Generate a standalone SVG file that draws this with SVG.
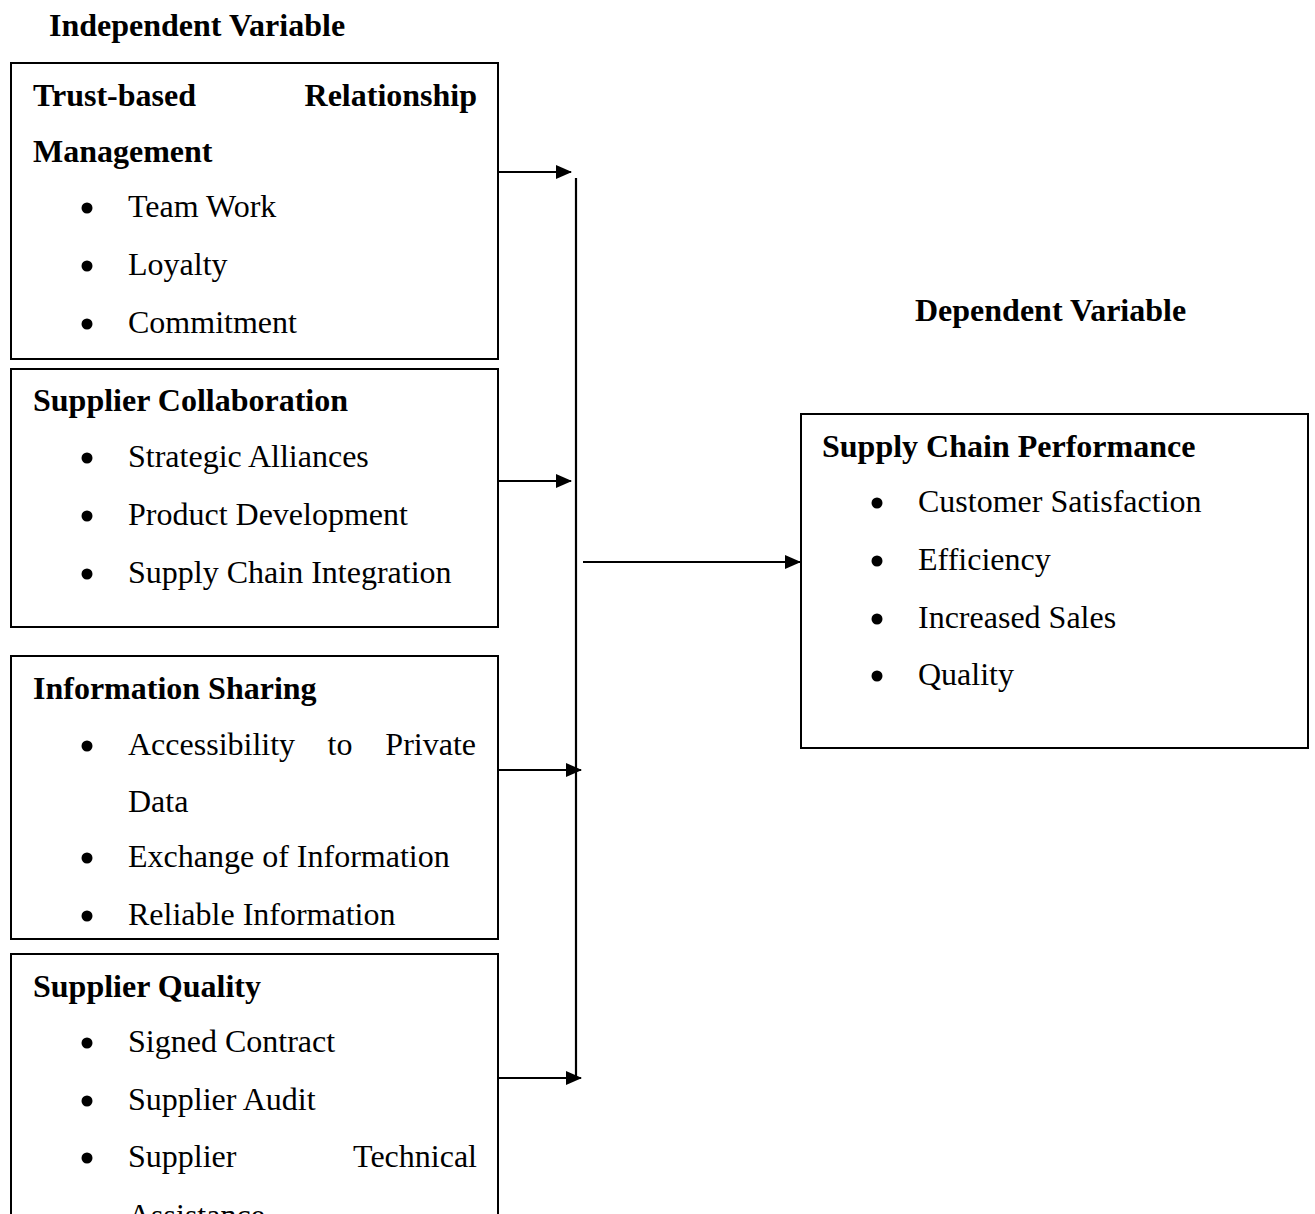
<svg xmlns="http://www.w3.org/2000/svg" width="1315" height="1214" viewBox="0 0 1315 1214">
<style>
text{font-family:"Liberation Serif","Times New Roman",serif;font-size:32px;fill:#000}
.b{font-weight:bold}
.box{fill:#fff;stroke:#000;stroke-width:2}
.ln{stroke:#000;stroke-width:2.2;fill:none}
.end{text-anchor:end}
</style>
<defs>
<marker id="ah" markerWidth="16" markerHeight="14" refX="15" refY="7" orient="auto" markerUnits="userSpaceOnUse">
<path d="M0,0 L16,7 L0,14 Z" fill="#000"/>
</marker>
<circle id="dot" r="5.5" fill="#000"/>
</defs>
<rect width="1315" height="1214" fill="#fff"/>
<text class="b" x="49" y="36">Independent Variable</text>
<text class="b" x="915" y="321">Dependent Variable</text>

<g id="trust">
<rect class="box" x="11" y="63" width="487" height="296"/>
<text class="b" x="33" y="106">Trust-based</text>
<text class="b end" x="477" y="106">Relationship</text>
<text class="b" x="33" y="162">Management</text>
<use href="#dot" x="87" y="208"/><text x="128" y="217">Team Work</text>
<use href="#dot" x="87" y="266"/><text x="128" y="275">Loyalty</text>
<use href="#dot" x="87" y="324"/><text x="128" y="333">Commitment</text>
</g>

<g id="collab">
<rect class="box" x="11" y="369" width="487" height="258"/>
<text class="b" x="33" y="411">Supplier Collaboration</text>
<use href="#dot" x="87" y="458"/><text x="128" y="467">Strategic Alliances</text>
<use href="#dot" x="87" y="516"/><text x="128" y="525">Product Development</text>
<use href="#dot" x="87" y="574"/><text x="128" y="583">Supply Chain Integration</text>
</g>

<g id="info">
<rect class="box" x="11" y="656" width="487" height="283"/>
<text class="b" x="33" y="699">Information Sharing</text>
<use href="#dot" x="87" y="746"/><text x="128" y="755">Accessibility</text>
<text x="340" y="755" text-anchor="middle">to</text>
<text class="end" x="476" y="755">Private</text>
<text x="128" y="812">Data</text>
<use href="#dot" x="87" y="858"/><text x="128" y="867">Exchange of Information</text>
<use href="#dot" x="87" y="916"/><text x="128" y="925">Reliable Information</text>
</g>

<g id="quality">
<rect class="box" x="11" y="954" width="487" height="300"/>
<text class="b" x="33" y="997">Supplier Quality</text>
<use href="#dot" x="87" y="1043"/><text x="128" y="1052">Signed Contract</text>
<use href="#dot" x="87" y="1101"/><text x="128" y="1110">Supplier Audit</text>
<use href="#dot" x="87" y="1158"/><text x="128" y="1167">Supplier</text>
<text class="end" x="477" y="1167">Technical</text>
<text x="128" y="1226">Assistance</text>
</g>

<g id="performance">
<rect class="box" x="801" y="414" width="507" height="334"/>
<text class="b" x="822" y="457">Supply Chain Performance</text>
<use href="#dot" x="877" y="503"/><text x="918" y="512">Customer Satisfaction</text>
<use href="#dot" x="877" y="561"/><text x="918" y="570">Efficiency</text>
<use href="#dot" x="877" y="619"/><text x="918" y="628">Increased Sales</text>
<use href="#dot" x="877" y="676"/><text x="918" y="685">Quality</text>
</g>

<g id="connectors">
<line class="ln" x1="576" y1="178" x2="576" y2="1076"/>
<line class="ln" x1="498" y1="172" x2="571" y2="172" marker-end="url(#ah)"/>
<line class="ln" x1="498" y1="481" x2="571" y2="481" marker-end="url(#ah)"/>
<line class="ln" x1="498" y1="770" x2="581" y2="770" marker-end="url(#ah)"/>
<line class="ln" x1="498" y1="1078" x2="581" y2="1078" marker-end="url(#ah)"/>
<line class="ln" x1="583" y1="562" x2="800" y2="562" marker-end="url(#ah)"/>
</g>
</svg>
